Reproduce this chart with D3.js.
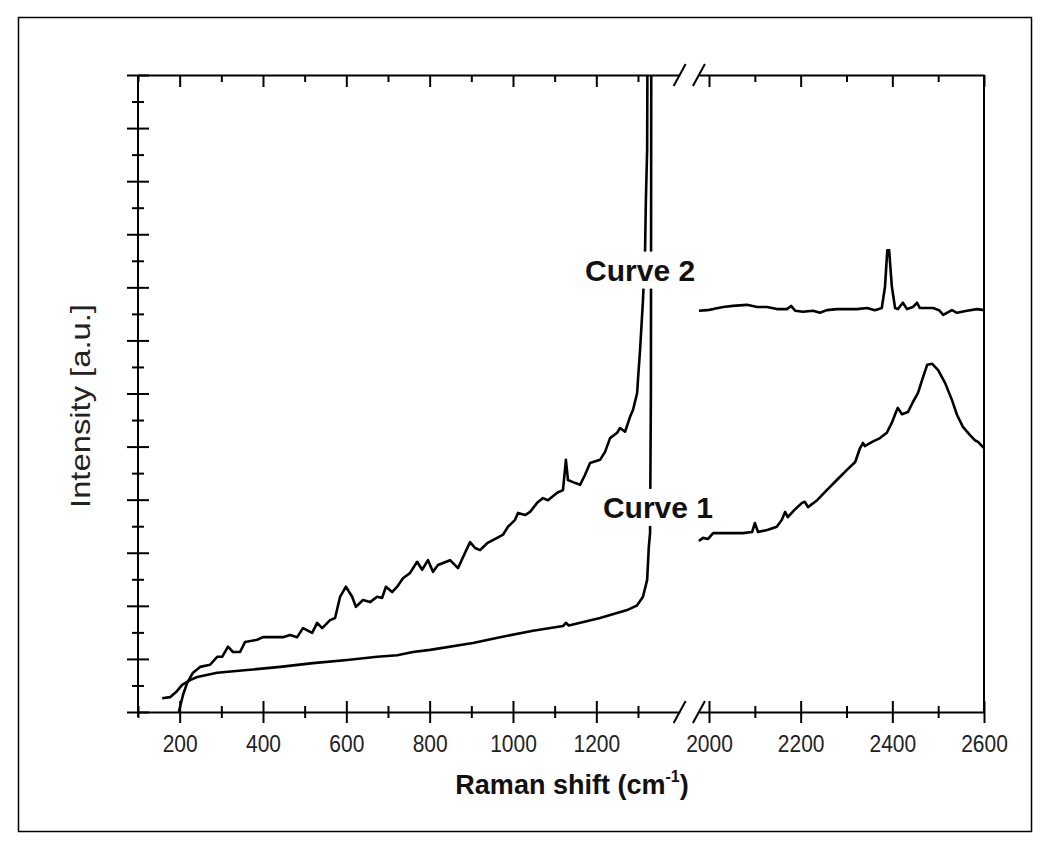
<!DOCTYPE html>
<html><head><meta charset="utf-8">
<script src="https://cdn.jsdelivr.net/npm/d3@7"></script>
<style>
html,body{margin:0;padding:0;background:#fff;}
svg{display:block;font-family:"Liberation Sans",Arial,Helvetica,sans-serif;}
</style></head><body>
<svg id="chart" width="1050" height="849"></svg>
<script>
// Raman spectra: [wavenumber (cm-1), intensity (a.u.)]
const curve1Low = [[158,0.26],[177,0.28],[192,0.38],[206,0.51],[225,0.60],[242,0.66],[290,0.74],[362,0.79],[441,0.85],[520,0.92],[602,0.98],[674,1.04],[722,1.07],[760,1.13],[801,1.17],[904,1.30],[969,1.41],[1048,1.53],[1120,1.62],[1127,1.68],[1134,1.63],[1209,1.77],[1274,1.92],[1298,2.01],[1312,2.17],[1322,2.49],[1326,3.11],[1329,3.37],[1331,6],[1332,13]];
const curve1High = [[1978,3.22],[1987,3.28],[1998,3.26],[2009,3.37],[2031,3.37],[2052,3.37],[2074,3.37],[2094,3.39],[2100,3.56],[2107,3.39],[2127,3.43],[2148,3.49],[2159,3.62],[2166,3.77],[2172,3.67],[2188,3.82],[2203,3.94],[2209,3.96],[2216,3.86],[2236,3.99],[2257,4.18],[2279,4.37],[2301,4.56],[2319,4.71],[2329,4.96],[2336,5.07],[2340,5.01],[2356,5.09],[2373,5.16],[2388,5.26],[2399,5.45],[2408,5.65],[2412,5.73],[2421,5.61],[2434,5.65],[2445,5.84],[2456,6.01],[2467,6.31],[2476,6.54],[2487,6.56],[2500,6.44],[2515,6.20],[2530,5.88],[2541,5.60],[2554,5.37],[2569,5.22],[2580,5.12],[2587,5.09],[2600,4.97]];
const curve2Low = [[198,0],[208,0.32],[218,0.55],[232,0.74],[249,0.85],[273,0.89],[290,1.04],[302,1.04],[316,1.23],[328,1.13],[345,1.13],[357,1.32],[386,1.36],[400,1.41],[434,1.41],[448,1.41],[465,1.45],[482,1.41],[496,1.58],[518,1.49],[530,1.68],[542,1.58],[561,1.73],[573,1.77],[585,2.17],[599,2.36],[614,2.17],[623,1.98],[640,2.11],[657,2.07],[674,2.17],[686,2.15],[695,2.36],[710,2.26],[722,2.36],[736,2.52],[753,2.62],[770,2.83],[782,2.68],[796,2.86],[808,2.64],[820,2.77],[849,2.86],[868,2.71],[885,3.00],[897,3.20],[909,3.09],[921,3.05],[938,3.18],[962,3.28],[976,3.34],[988,3.49],[1005,3.62],[1012,3.75],[1029,3.71],[1041,3.77],[1058,3.94],[1072,4.03],[1084,3.99],[1106,4.13],[1120,4.18],[1127,4.75],[1132,4.37],[1144,4.33],[1161,4.28],[1173,4.47],[1185,4.69],[1209,4.75],[1221,4.90],[1233,5.16],[1250,5.26],[1257,5.35],[1269,5.28],[1281,5.56],[1288,5.69],[1298,6.01],[1300,6.26],[1305,6.82],[1312,7.76],[1317,8.70],[1319,9.65],[1322,10.6],[1323,13]];
const curve2High = [[1978,7.56],[1996,7.57],[2009,7.59],[2031,7.63],[2052,7.65],[2083,7.67],[2105,7.63],[2127,7.63],[2148,7.59],[2170,7.59],[2179,7.65],[2188,7.56],[2205,7.54],[2227,7.56],[2242,7.52],[2257,7.57],[2279,7.59],[2301,7.59],[2323,7.59],[2345,7.61],[2362,7.57],[2377,7.61],[2384,8.01],[2389,8.70],[2393,8.70],[2399,8.01],[2406,7.61],[2412,7.59],[2423,7.71],[2432,7.59],[2445,7.63],[2454,7.71],[2460,7.61],[2489,7.61],[2502,7.57],[2511,7.48],[2519,7.52],[2530,7.57],[2541,7.52],[2563,7.56],[2585,7.59],[2600,7.57]];

// axis ticks
const lowMajor = [200,400,600,800,1000,1200];
const lowMinor = [100,300,500,700,900,1100,1300];
const highMajor = [2000,2200,2400,2600];
const highMinor = [2100,2300,2500];
const yMajor = [0,1,2,3,4,5,6,7,8,9,10,11,12];
const yMinor = [0.5,1.5,2.5,3.5,4.5,5.5,6.5,7.5,8.5,9.5,10.5,11.5];

// annotations: [text, wavenumber, intensity]
const curveLabels = [["Curve 2",1305,8.33],["Curve 1",1348,3.86]];

const L=138, R=984, T=75, B=712;
const svg = d3.select("#chart");

// outer frame
svg.append("rect").attr("x",18.5).attr("y",17.5).attr("width",1013).attr("height",814)
  .attr("fill","none").attr("stroke","#000").attr("stroke-width",1.5);

const xLo = d3.scaleLinear().domain([100,1400]).range([L, L+1300*83.33/200]);
const xHi = d3.scaleLinear().domain([1978,2600]).range([709-22*275/600, R]);
const y = d3.scaleLinear().domain([0,12]).range([B,T]);

const axisStroke = 2;
function styleAxis(g){
  g.selectAll("path.domain").attr("stroke","#000").attr("stroke-width",axisStroke);
  g.selectAll(".tick line").attr("stroke","#000").attr("stroke-width",axisStroke);
  g.attr("font-family",null).attr("font-size",null);
}

// bottom axis (two segments)
function bottomAxis(scale, majors, minors){
  const gMin = svg.append("g").attr("transform",`translate(0,${B})`)
    .call(d3.axisBottom(scale).tickValues(minors).tickSizeInner(6).tickSizeOuter(0).tickFormat(""));
  gMin.select("path.domain").remove();
  styleAxis(gMin);
  gMin.selectAll(".tick line").attr("y1",-6);
  const gMaj = svg.append("g").attr("transform",`translate(0,${B})`)
    .call(d3.axisBottom(scale).tickValues(majors).tickSizeInner(11).tickSizeOuter(0).tickFormat(d3.format("d")));
  styleAxis(gMaj);
  gMaj.selectAll(".tick line").attr("y1",-11);
  gMaj.selectAll(".tick text").attr("y",0).attr("dy",null)
    .attr("transform","translate(0,40) scale(1,1.1)")
    .attr("font-size",21).attr("fill","#222");
}
bottomAxis(xLo, lowMajor, lowMinor);
bottomAxis(xHi, highMajor, highMinor);

// top axis (ticks point inward)
function topAxis(scale, majors, minors){
  const gMin = svg.append("g").attr("transform",`translate(0,${T})`)
    .call(d3.axisTop(scale).tickValues(minors).tickSizeInner(-7).tickSizeOuter(0).tickFormat(""));
  gMin.select("path.domain").remove();
  styleAxis(gMin);
  const gMaj = svg.append("g").attr("transform",`translate(0,${T})`)
    .call(d3.axisTop(scale).tickValues(majors).tickSizeInner(-12).tickSizeOuter(0).tickFormat(""));
  styleAxis(gMaj);
}
topAxis(xLo, lowMajor, lowMinor);
topAxis(xHi, highMajor, highMinor);

// left axis, ticks cross the line
const gYmin = svg.append("g").attr("transform",`translate(${L},0)`)
  .call(d3.axisLeft(y).tickValues(yMinor).tickSizeInner(6).tickSizeOuter(0).tickFormat(""));
gYmin.select("path.domain").remove();
styleAxis(gYmin);
gYmin.selectAll(".tick line").attr("x1",6);
const gYmaj = svg.append("g").attr("transform",`translate(${L},0)`)
  .call(d3.axisLeft(y).tickValues(yMajor).tickSizeInner(11).tickSizeOuter(0).tickFormat(""));
styleAxis(gYmaj);
gYmaj.selectAll(".tick line").attr("x1",11);
gYmaj.select("path.domain").attr("d",`M0,${B+5}V${T}`);

// right frame line
svg.append("line").attr("x1",R).attr("x2",R).attr("y1",T).attr("y2",B)
  .attr("stroke","#000").attr("stroke-width",axisStroke);

// axis break marks
const breakX = [xLo.range()[1], xHi.range()[0]];
[T,B].forEach(yy=>{
  breakX.forEach(bx=>{
    svg.append("line").attr("x1",bx-6).attr("y1",yy+11).attr("x2",bx+6).attr("y2",yy-11)
      .attr("stroke","#000").attr("stroke-width",axisStroke);
  });
});

// spectra
svg.append("clipPath").attr("id","plotClip").append("rect")
  .attr("x",L).attr("y",T).attr("width",R-L).attr("height",B-T+2);
const plot = svg.append("g").attr("clip-path","url(#plotClip)");
const lineLo = d3.line().x(d=>xLo(d[0])).y(d=>y(d[1]));
const lineHi = d3.line().x(d=>xHi(d[0])).y(d=>y(d[1]));
[[curve1Low,lineLo],[curve2Low,lineLo],[curve1High,lineHi],[curve2High,lineHi]].forEach(([data,gen])=>{
  plot.append("path").datum(data).attr("d",gen)
    .attr("fill","none").attr("stroke","#000").attr("stroke-width",2.6)
    .attr("stroke-linejoin","round");
});

// curve labels on white patches
curveLabels.forEach(([txt,xv,yv])=>{
  const g = svg.append("g");
  const t = g.append("text").text(txt)
    .attr("x",xLo(xv)).attr("y",y(yv)).attr("dy","0.36em")
    .attr("text-anchor","middle").attr("font-weight","bold").attr("font-size",30).attr("fill","#111");
  const bb = t.node().getBBox();
  g.insert("rect","text").attr("x",bb.x-2).attr("y",bb.y-2).attr("width",bb.width+4).attr("height",bb.height+4)
    .attr("fill","#fff");
});

// axis titles
const xt = svg.append("text").attr("x",572).attr("y",794).attr("text-anchor","middle")
  .attr("font-weight","bold").attr("font-size",27).attr("fill","#111");
xt.append("tspan").text("Raman shift (cm");
xt.append("tspan").text("-1").attr("font-size",16).attr("dy",-12);
xt.append("tspan").text(")").attr("dy",12);

svg.append("text").attr("transform","translate(90,406) rotate(-90) scale(1.17,1)").attr("text-anchor","middle")
  .attr("font-size",28).attr("fill","#222").text("Intensity [a.u.]");
</script>
</body></html>
